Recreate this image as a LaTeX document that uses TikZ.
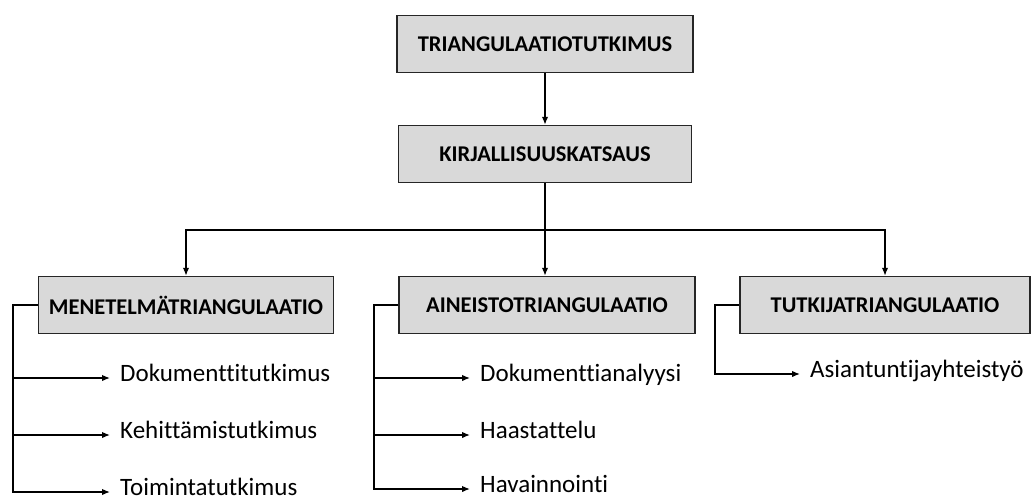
\documentclass[tikz,border=0pt]{standalone}
\usepackage{fontspec}
\setmainfont{Carlito}[Ligatures=NoCommon]
\usetikzlibrary{arrows.meta}
\begin{document}
\begin{tikzpicture}[x=1pt,y=-1pt,
  box/.style={draw=black!85,line width=1.5pt,fill=black!15,minimum height=57pt,
    inner sep=0pt,font=\fontsize{22.5}{26}\selectfont\bfseries},
  leaf/.style={anchor=west,inner xsep=10pt,inner ysep=0pt,text height=0.64em,text depth=0pt,
    font=\fontsize{25}{28}\selectfont},
  conn/.style={draw=black,line width=1.4pt},
  arr/.style={conn,-{Latex[length=8pt,width=6.5pt]}}]
\useasboundingbox (0,0) rectangle (1032,500);
% hierarchy boxes
\node[box,minimum width=296pt] (top) at (545,44) {TRIANGULAATIOTUTKIMUS};
\node[box,minimum width=293pt] (kir) at (545,154) {KIRJALLISUUSKATSAUS};
\node[box,minimum width=295pt] (men) at (186,305) {MENETELMÄTRIANGULAATIO};
\node[box,minimum width=296pt] (ain) at (547,305) {AINEISTOTRIANGULAATIO};
\node[box,minimum width=290pt] (tut) at (885,305) {TUTKIJATRIANGULAATIO};
% leaf labels
\node[leaf] (m1) at (110,378) {Dokumenttitutkimus};
\node[leaf] (m2) at (110,435) {Kehittämistutkimus};
\node[leaf] (m3) at (110,492) {Toimintatutkimus};
\node[leaf] (a1) at (470,378) {Dokumenttianalyysi};
\node[leaf] (a2) at (470,435) {Haastattelu};
\node[leaf] (a3) at (470,489) {Havainnointi};
\node[leaf] (t1) at (800,374) {Asiantuntijayhteistyö};
% rails and hub
\coordinate (hub) at (545,230);
\coordinate (rm) at (13,0);
\coordinate (ra) at (374,0);
\coordinate (rt) at (715,0);
% top-level connectors
\draw[arr] (top) -- (kir);
\draw[conn] (kir.south) -- (hub);
\draw[arr] (hub) -| (men.north);
\draw[arr] (hub) -- (ain.north -| hub);
\draw[arr] (hub) -| (tut.north);
% branch brackets
\foreach \b/\r/\l in {men/rm/m1,men/rm/m2,men/rm/m3,ain/ra/a1,ain/ra/a2,ain/ra/a3,tut/rt/t1}
  \draw[arr] (\b.west) -- (\b.west -| \r) |- (\l.west);
\end{tikzpicture}
\end{document}
